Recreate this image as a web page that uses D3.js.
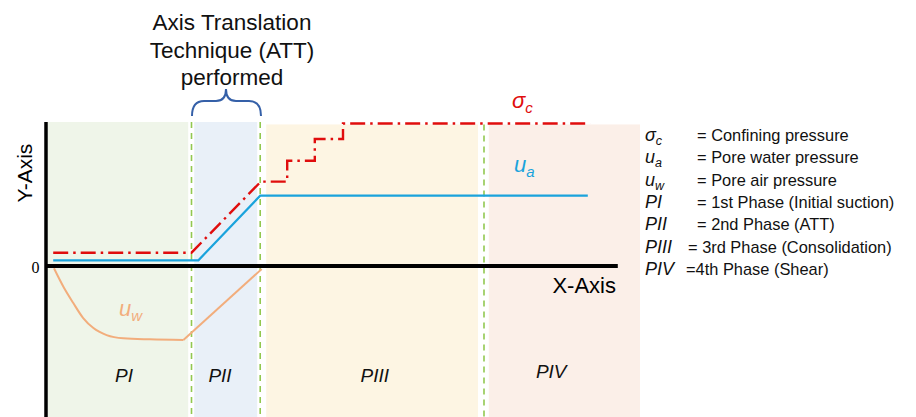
<!DOCTYPE html>
<html>
<head>
<meta charset="utf-8">
<script src="https://cdn.jsdelivr.net/npm/d3@7"></script>
<style>
  body { margin: 0; background: #fff; }
  svg { display: block; font-family: "Liberation Sans", Arial, sans-serif; }
</style>
</head>
<body>
<div id="chart"></div>
<script>
var width = 916;
var height = 417;

// phases (x in arbitrary time units, 0..100)
var phaseNames = ["PI", "PII", "PIII", "PIV"];
var phaseStart = [0.3, 24.7, 36.7, 73.8];
var phaseEnd = [23.7, 35.2, 72, 99];
var phaseDividers = [24.25, 35.7, 73];

// pressures (y in arbitrary units, 0 = atmospheric)
var sigmaX = [1.2, 24.25, 35.8, 40.2, 40.2, 44.8, 44.8, 49.5, 49.5, 90.7];
var sigmaY = [9.3, 9.3, 59, 59, 73.6, 73.6, 88.8, 88.8, 99.6, 99.6];

var uaX = [1.2, 25.4, 35.7, 90.3];
var uaY = [4, 4, 49.2, 49.2];

var uwX = [1.33, 2.9, 4.55, 6.2, 7.9, 10.1, 12.9, 17.3, 22.9, 35.95];
var uwY = [-1.6, -14.5, -25.9, -36.4, -43.4, -48.3, -50.6, -51.3, -51.7, -2.1];

var legendSymbols = ["σ|c", "u|a", "u|w", "PI|", "PII|", "PIII|", "PIV|"];
var legendTexts = ["= Confining pressure", "= Pore water pressure", "= Pore air pressure",
  "= 1st Phase (Initial suction)", "= 2nd Phase (ATT)", "= 3rd Phase (Consolidation)", "=4th Phase (Shear)"];

var titleLines = ["Axis Translation", "Technique (ATT)", "performed"];

// styles / layout
var phaseColors = ["#eff5e9", "#e9f0f8", "#fdf5e3", "#fbefe8"];
var phaseLabelX = [13, 29, 54.8, 84.2];
var legendEqX = [697, 697, 697, 697, 697, 688, 686];

var svg = d3.select("#chart")
  .append("svg")
  .attr("width", width)
  .attr("height", height);

var x = d3.scaleLinear().domain([0, 100]).range([46, 646]);
var y = d3.scaleLinear().domain([-100, 100]).range([409, 123]);

// phase backgrounds
svg.append("g").selectAll("rect")
  .data(phaseNames)
  .enter()
  .append("rect")
  .attr("x", function(d, i){ return x(phaseStart[i]); })
  .attr("width", function(d, i){ return x(phaseEnd[i]) - x(phaseStart[i]); })
  .attr("y", function(d, i){ return i < 2 ? y(100.7) : y(99); })
  .attr("height", function(d, i){ return height - (i < 2 ? y(100.7) : y(99)); })
  .attr("fill", function(d, i){ return phaseColors[i]; });

// dashed dividers
svg.append("g").selectAll("line")
  .data(phaseDividers)
  .enter()
  .append("line")
  .attr("x1", function(d){ return x(d); })
  .attr("x2", function(d){ return x(d); })
  .attr("y1", function(d, i){ return i == 2 ? y(99) : y(100.7); })
  .attr("y2", height)
  .attr("stroke", "#92c850")
  .attr("stroke-width", 1.6)
  .attr("stroke-dasharray", "6,5");

// phase labels
svg.append("g").selectAll("text")
  .data(phaseNames)
  .enter()
  .append("text")
  .attr("x", function(d, i){ return x(phaseLabelX[i]); })
  .attr("y", function(d, i){ return i == 3 ? 378 : 382; })
  .attr("text-anchor", "middle")
  .attr("font-size", 19)
  .attr("font-style", "italic")
  .attr("fill", "#111")
  .text(function(d){ return d; });

var line = d3.line()
  .x(function(d){ return x(d[0]); })
  .y(function(d){ return y(d[1]); });

// u_a
svg.append("path")
  .datum(d3.zip(uaX, uaY))
  .attr("d", line)
  .attr("fill", "none")
  .attr("stroke", "#1aa3dc")
  .attr("stroke-width", 2.2);

// sigma_c
svg.append("path")
  .datum(d3.zip(sigmaX, sigmaY))
  .attr("d", line)
  .attr("fill", "none")
  .attr("stroke", "#e00d0d")
  .attr("stroke-width", 2.4)
  .attr("stroke-dasharray", "15,5,2.5,5");

// u_w : smooth drop, then straight rise
var uwPts = d3.zip(uwX, uwY);
svg.append("path")
  .datum(uwPts.slice(0, uwPts.length - 1))
  .attr("d", line.curve(d3.curveMonotoneX))
  .attr("fill", "none")
  .attr("stroke", "#f2ad7c")
  .attr("stroke-width", 2);
line.curve(d3.curveLinear);
svg.append("path")
  .datum(uwPts.slice(uwPts.length - 2))
  .attr("d", line)
  .attr("fill", "none")
  .attr("stroke", "#f2ad7c")
  .attr("stroke-width", 2);

// axes
svg.append("line")
  .attr("x1", x(0)).attr("x2", x(95.3))
  .attr("y1", y(0)).attr("y2", y(0))
  .attr("stroke", "#000").attr("stroke-width", 4);
svg.append("line")
  .attr("x1", x(0)).attr("x2", x(0))
  .attr("y1", y(100.7)).attr("y2", height)
  .attr("stroke", "#000").attr("stroke-width", 3.5);

svg.append("text")
  .attr("x", 35.5).attr("y", 273)
  .attr("text-anchor", "middle")
  .attr("font-family", "Liberation Serif, Times New Roman, serif")
  .attr("font-size", 16)
  .text("0");

svg.append("text")
  .attr("x", 616).attr("y", 293)
  .attr("text-anchor", "end")
  .attr("font-size", 22)
  .text("X-Axis");

svg.append("text")
  .attr("transform", "translate(32,173) rotate(-90)")
  .attr("text-anchor", "middle")
  .attr("font-size", 21)
  .text("Y-Axis");

// series labels
function subLabel(sx, sy, main, sub, color){
  var t = svg.append("text")
    .attr("x", sx).attr("y", sy)
    .attr("font-style", "italic")
    .attr("fill", color);
  t.append("tspan").attr("font-size", 22).text(main);
  t.append("tspan").attr("font-size", 15).attr("dy", 5).text(sub);
}
subLabel(512, 108, "σ", "c", "#e00d0d");
subLabel(514, 172, "u", "a", "#1aa3dc");
subLabel(119, 316, "u", "w", "#f2ad7c");

// title + brace
svg.append("g").selectAll("text")
  .data(titleLines)
  .enter()
  .append("text")
  .attr("x", 232)
  .attr("y", function(d, i){ return 30 + i * 27.5; })
  .attr("text-anchor", "middle")
  .attr("font-size", 22.5)
  .attr("fill", "#111")
  .text(function(d){ return d; });

svg.append("path")
  .attr("d", "M192,116 Q192,101 204,101 L216,101 Q226,101 226,89 Q226,101 236,101 L249,101 Q261,101 261,116")
  .attr("fill", "none")
  .attr("stroke", "#3560a8")
  .attr("stroke-width", 2);

// legend
var leg = svg.append("g").attr("font-size", 16.4).attr("fill", "#111");
legendSymbols.forEach(function(s, i){
  var parts = s.split("|");
  var yy = 141 + i * 22.3;
  var t = leg.append("text").attr("x", 645).attr("y", yy).attr("font-style", "italic");
  t.append("tspan").attr("font-size", 18).text(parts[0]);
  if (parts[1]) t.append("tspan").attr("font-size", 12.5).attr("dy", 4).text(parts[1]);
  leg.append("text")
    .attr("x", legendEqX[i])
    .attr("y", yy)
    .text(legendTexts[i]);
});
</script>
</body>
</html>
